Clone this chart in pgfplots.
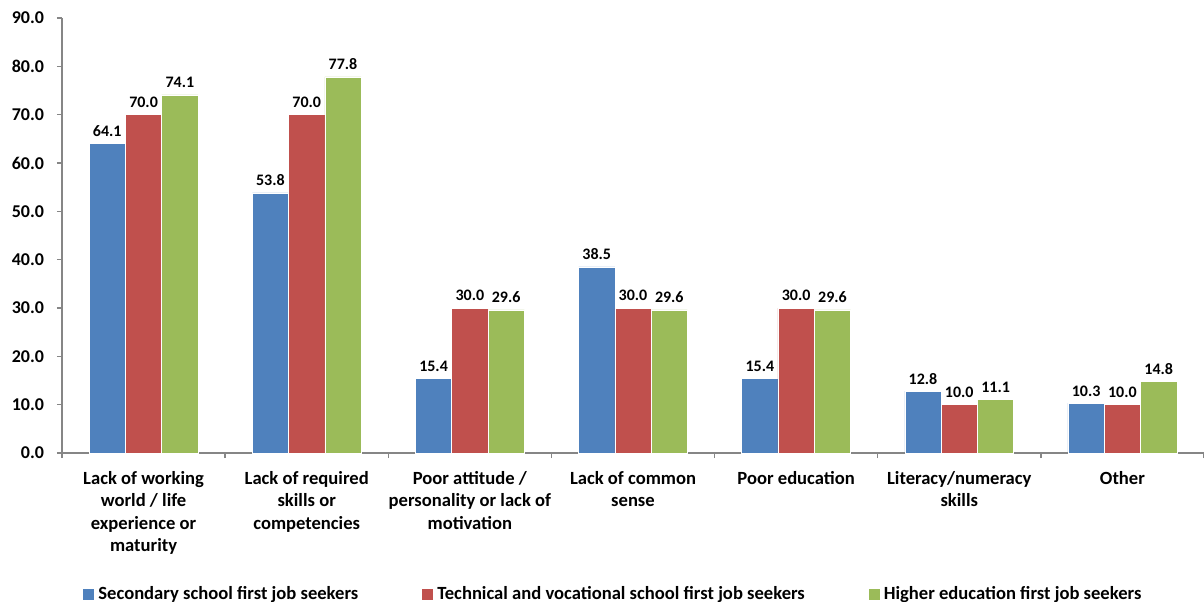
\documentclass[border=0pt]{standalone}
\usepackage{fontspec}
\setmainfont{Carlito}
\usepackage{pgfplots}
\pgfplotsset{compat=1.18}
\definecolor{cblue}{HTML}{4F81BD}
\definecolor{cred}{HTML}{C0504D}
\definecolor{cgreen}{HTML}{9BBB59}
\definecolor{axgray}{HTML}{868686}
\begin{document}
\begin{tikzpicture}
\begin{axis}[
  at={(0,0)}, anchor=south west,
  scale only axis, width=571pt, height=217.5pt,
  xmin=-0.5, xmax=6.5, ymin=0, ymax=90,
  ybar=0pt, bar width=18.15pt,
  axis x line*=bottom, axis y line*=left,
  axis line style={axgray, line width=0.7pt},
  tick align=outside,
  major tick length=2.5pt, minor tick length=2.5pt,
  every tick/.style={axgray, line width=0.7pt},
  xtick={0,...,6},
  major x tick style={draw=none},
  minor xtick={-0.5,0.5,...,6.5},
  xticklabels={
    {Lack of working\\world / life\\experience or\\maturity},
    {Lack of required\\skills or\\competencies},
    {Poor attitude /\\personality or lack of\\motivation},
    {Lack of common\\sense},
    {Poor education},
    {Literacy/numeracy\\skills},
    {Other}},
  x tick label style={font=\fontsize{9.3}{11.3}\selectfont\bfseries, align=center, anchor=north, yshift=-3pt},
  ytick={0,10,...,90},
  y tick label style={font=\fontsize{9}{11}\selectfont\bfseries, xshift=-3pt},
  yticklabel style={/pgf/number format/.cd, fixed, fixed zerofill, precision=1, assume math mode=true},
  nodes near coords,
  every node near coord/.append style={font=\fontsize{8}{10}\selectfont\bfseries, black,
    /pgf/number format/.cd, fixed, fixed zerofill, precision=1, assume math mode=true},
  legend columns=3,
  legend style={at={(0,0)}, anchor=west, xshift=10.5pt, yshift=-70.5pt,
    draw=none, fill=none, inner sep=0pt,
    font=\fontsize{9.3}{11}\selectfont\bfseries,
    nodes={inner sep=1pt},
    /tikz/every odd column/.append style={column sep=1pt},
    /tikz/every even column/.append style={column sep=31pt}},
  legend image code/.code={\fill[#1, draw=none] (0pt,-2.75pt) rectangle (5.5pt,2.75pt);},
]
\addplot[fill=cblue, draw=white, line width=0.3pt] coordinates {(0,64.1) (1,53.8) (2,15.4) (3,38.5) (4,15.4) (5,12.8) (6,10.3)};
\addplot[fill=cred, draw=white, line width=0.3pt] coordinates {(0,70.0) (1,70.0) (2,30.0) (3,30.0) (4,30.0) (5,10.0) (6,10.0)};
\addplot[fill=cgreen, draw=white, line width=0.3pt] coordinates {(0,74.1) (1,77.8) (2,29.6) (3,29.6) (4,29.6) (5,11.1) (6,14.8)};
\legend{Secondary school first job seekers, Technical and vocational school first job seekers, Higher education first job seekers}
\end{axis}
\pgfresetboundingbox
\path[use as bounding box] (-31pt,-74pt) rectangle (571pt,226.5pt);
\end{tikzpicture}
\end{document}
